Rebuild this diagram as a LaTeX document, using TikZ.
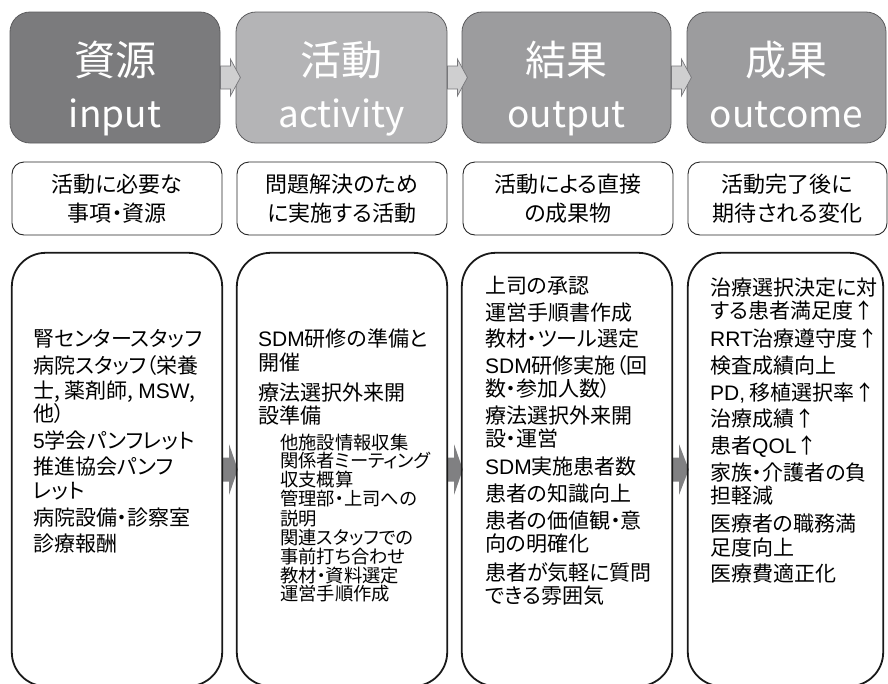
\documentclass[tikz,border=0pt]{standalone}
\usepackage{fontspec}
\setmainfont{Noto Sans CJK JP}[RawFeature=+palt]
\newfontfamily\latn{Liberation Sans}
\usetikzlibrary{calc}
\definecolor{hdark}{HTML}{7B7B7D}
\definecolor{hlight}{HTML}{B4B4B6}
\definecolor{hmid}{HTML}{9C9C9E}
\definecolor{hborder}{HTML}{5C5C5E}
\definecolor{harrowfill}{HTML}{CFCFD0}
\definecolor{harrowline}{HTML}{77777A}
\definecolor{barrowfill}{HTML}{808082}
\newcommand{\lt}[1]{{\latn #1}}
\begin{document}
\begin{tikzpicture}[x=1pt,y=-1pt,
  hbox/.style={draw=hborder, line width=0.8pt, rounded corners=20pt, inner sep=0},
  dbox/.style={draw=black!85, line width=0.9pt, rounded corners=12pt, inner sep=0},
  cbox/.style={draw=black!90, line width=1.8pt, rounded corners=34pt},
  htitle/.style={text=white, font=\fontsize{41}{41}\selectfont, anchor=base, inner sep=0},
  hsub/.style={text=white, font=\fontsize{37}{37}\selectfont, anchor=base, inner sep=0},
  dtext/.style={font=\fontsize{22}{29}\selectfont, align=center, inner sep=0},
  itm/.style={font=\fontsize{21}{21}\selectfont, anchor=base west, inner sep=0},
  sitm/.style={font=\fontsize{18.3}{18.3}\selectfont, anchor=base west, inner sep=0},
  harr/.style={fill=harrowfill, draw=harrowline, line width=0.7pt, line join=miter},
  barr/.style={fill=barrowfill, draw=none},
]
\useasboundingbox (0,0) rectangle (888,683);
\clip (0,0) rectangle (888,683);

% header boxes
\node[hbox, fill=hdark,  minimum width=210pt, minimum height=131pt] (h1) at (115,77.5) {};
\node[hbox, fill=hlight, minimum width=211pt, minimum height=131pt] (h2) at (341.5,77.5) {};
\node[hbox, fill=hmid,   minimum width=209pt, minimum height=131pt] (h3) at (566.5,77.5) {};
\node[hbox, fill=hmid,   minimum width=199pt, minimum height=131pt] (h4) at (786.5,77.5) {};

\node[htitle] (t1) at (115,75) {資源};
\node[hsub]   (s1) at (115,127) {input};
\node[htitle] (t2) at (341.5,75) {活動};
\node[hsub]   (s2) at (341.5,127) {activity};
\node[htitle] (t3) at (566.5,75) {結果};
\node[hsub]   (s3) at (566.5,127) {output};
\node[htitle] (t4) at (786.5,75) {成果};
\node[hsub]   (s4) at (786.5,127) {outcome};

% header arrows
\foreach \a/\b in {h1/h2,h2/h3,h3/h4}{
  \draw[harr] ($(\a.east)+(0,-11.5)$) -- ($(\a.east)+(10,-11.5)$) -- ($(\a.east)+(10,-18.5)$)
     -- ($(\a.east)+(20,0)$) -- ($(\a.east)+(10,18.5)$) -- ($(\a.east)+(10,11.5)$)
     -- ($(\a.east)+(0,11.5)$) -- cycle;
}

% description boxes
\node[dbox, minimum width=210pt, minimum height=73pt] (d1) at (117,198.5) {};
\node[dbox, minimum width=210pt, minimum height=73pt] (d2) at (342,198.5) {};
\node[dbox, minimum width=210pt, minimum height=73pt] (d3) at (568,198.5) {};
\node[dbox, minimum width=199pt, minimum height=73pt] (d4) at (787.5,198.5) {};
\node[dtext] (dt1) at (d1.center) {活動に必要な\\事項・資源};
\node[dtext] (dt2) at (d2.center) {問題解決のため\\に実施する活動};
\node[dtext] (dt3) at (d3.center) {活動による直接\\の成果物};
\node[dtext] (dt4) at (d4.center) {活動完了後に\\期待される変化};

% content boxes
\node[minimum width=210pt, minimum height=433pt, inner sep=0] (c1) at (117,469.5) {};
\node[minimum width=210pt, minimum height=433pt, inner sep=0] (c2) at (342,469.5) {};
\node[minimum width=210pt, minimum height=433pt, inner sep=0] (c3) at (567,469.5) {};
\node[minimum width=195pt, minimum height=433pt, inner sep=0] (c4) at (785.5,469.5) {};
\foreach \a/\b in {c1/c2,c2/c3,c3/c4}{
  \fill[barr] ($(\a.east)+(0,-12)$) -- ($(\a.east)+(7,-12)$) -- ($(\a.east)+(7,-25)$)
     -- ($(\b.west)+(1,0)$) -- ($(\a.east)+(7,25)$) -- ($(\a.east)+(7,12)$)
     -- ($(\a.east)+(0,12)$) -- cycle;
}
\foreach \a in {c1,c2,c3,c4}{
  \draw[cbox] (\a.north west) rectangle (\a.south east);
}

% column 1
\foreach \txt/\yy [count=\i] in {腎センタースタッフ/338, 病院スタッフ（栄養/365, {士, 薬剤師, \lt{MSW},}/390, 他）/413,
  \lt{5}学会パンフレット/440, 推進協会パンフ/466, レット/490, 病院設備・診察室/517, 診療報酬/543}{
  \node[itm, name=pa\i] at (33,\yy+8) {\txt};
}
% column 2
\foreach \txt/\yy [count=\i] in {\lt{SDM}研修の準備と/338, 開催/362, 療法選択外来開/392, 設準備/415}{
  \node[itm, name=pb\i] at (258,\yy+8) {\txt};
}
\foreach \txt/\yy [count=\i] in {他施設情報収集/442, 関係者ミーティング/460, 収支概算/479, 管理部・上司への/498,
  説明/518, 関連スタッフでの/537, 事前打ち合わせ/556, 教材・資料選定/575, 運営手順作成/593}{
  \node[sitm, name=qb\i] at (280,\yy+7) {\txt};
}
% column 3
\foreach \txt/\yy [count=\i] in {上司の承認/285, 運営手順書作成/312, 教材・ツール選定/338, \lt{SDM}研修実施（回/365,
  数・参加人数）/388, 療法選択外来開/415, 設・運営/438, \lt{SDM}実施患者数/466, 患者の知識向上/493,
  患者の価値観・意/520, 向の明確化/543, 患者が気軽に質問/572, できる雰囲気/595}{
  \node[itm, name=pc\i] at (485,\yy+8) {\txt};
}
% column 4
\foreach \txt/\yy [count=\i] in {治療選択決定に対/287, する患者満足度↑/310, \lt{RRT}治療遵守度↑/338, 検査成績向上/365,
  {\lt{PD,} 移植選択率↑}/392, 治療成績↑/418, 患者\lt{QOL}↑/445, 家族・介護者の負/472, 担軽減/495,
  医療者の職務満/523, 足度向上/547, 医療費適正化/573}{
  \node[itm, name=pd\i] at (710,\yy+8) {\txt};
}
\end{tikzpicture}
\end{document}
